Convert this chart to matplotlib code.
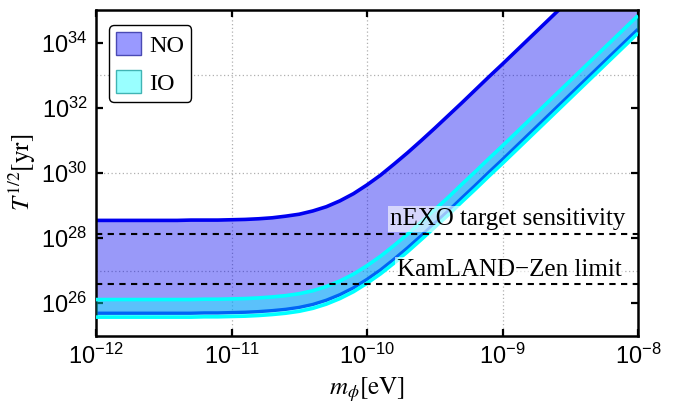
import numpy as np
import matplotlib
matplotlib.use("Agg")
import matplotlib.pyplot as plt
from matplotlib.patches import Patch
from matplotlib.ticker import FixedLocator, FuncFormatter, NullLocator

plt.rcParams['font.family'] = ['Liberation Sans', 'DejaVu Sans']
plt.rcParams['mathtext.fontset'] = 'stix'

# log10 of m_phi [eV]
log_m = [-12.0, -11.9, -11.8, -11.7, -11.6, -11.5, -11.4, -11.3, -11.2, -11.1,
         -11.0, -10.9, -10.8, -10.7, -10.6, -10.5, -10.4, -10.3, -10.2, -10.1,
         -10.0, -9.9, -9.8, -9.7, -9.6, -9.5, -9.4, -9.3, -9.2, -9.1,
         -9.0, -8.9, -8.8, -8.7, -8.6, -8.5, -8.4, -8.3, -8.2, -8.1, -8.0]

# log10 of T^{1/2} [yr]
no_upper = [28.54, 28.54, 28.54, 28.54, 28.54, 28.54, 28.54, 28.55, 28.55, 28.55,
            28.56, 28.57, 28.59, 28.62, 28.67, 28.73, 28.83, 28.96, 29.14, 29.36,
            29.63, 29.93, 30.27, 30.62, 30.99, 31.37, 31.76, 32.15, 32.55, 32.95,
            33.34, 33.74, 34.14, 34.54, 34.94, 35.34, 35.74, 36.14, 36.54, 36.94, 37.34]
no_lower = [25.69, 25.69, 25.69, 25.69, 25.69, 25.69, 25.69, 25.69, 25.70, 25.70,
            25.71, 25.72, 25.74, 25.77, 25.81, 25.87, 25.96, 26.09, 26.26, 26.47,
            26.73, 27.02, 27.35, 27.70, 28.07, 28.45, 28.83, 29.23, 29.62, 30.02,
            30.41, 30.81, 31.21, 31.61, 32.01, 32.41, 32.81, 33.21, 33.61, 34.01, 34.41]
io_upper = [26.11, 26.11, 26.11, 26.11, 26.11, 26.11, 26.11, 26.11, 26.12, 26.12,
            26.13, 26.14, 26.16, 26.19, 26.23, 26.29, 26.38, 26.51, 26.68, 26.89,
            27.15, 27.44, 27.77, 28.12, 28.49, 28.87, 29.25, 29.65, 30.04, 30.44,
            30.83, 31.23, 31.63, 32.03, 32.43, 32.83, 33.23, 33.63, 34.03, 34.43, 34.83]
io_lower = [25.57, 25.57, 25.57, 25.57, 25.57, 25.57, 25.57, 25.57, 25.58, 25.58,
            25.59, 25.60, 25.62, 25.65, 25.69, 25.75, 25.84, 25.97, 26.14, 26.35,
            26.61, 26.90, 27.23, 27.58, 27.95, 28.33, 28.71, 29.11, 29.50, 29.90,
            30.29, 30.69, 31.09, 31.49, 31.89, 32.29, 32.69, 33.09, 33.49, 33.89, 34.29]

nexo_target = 1.35e28
kamland_limit = 3.8e26

x_ticks = [1e-12, 1e-11, 1e-10, 1e-9, 1e-8]
y_ticks = [1e26, 1e28, 1e30, 1e32, 1e34]
grid_x = [1e-11, 1e-10, 1e-9]
grid_y = [1e27, 1e30, 1e33]

m = 10.0 ** np.array(log_m)
nu = 10.0 ** np.array(no_upper)
nl = 10.0 ** np.array(no_lower)
iu = 10.0 ** np.array(io_upper)
il = 10.0 ** np.array(io_lower)

fig = plt.figure(figsize=(6.73, 4.03), dpi=100)
ax = fig.add_axes([96/673, 1-335.7/403, (638-96)/673, (335.7-10)/403])
ax.set_xscale('log')
ax.set_yscale('log')
ax.set_xlim(1e-12, 1e-8)
ax.set_ylim(1e25, 1e35)

for gx in grid_x:
    ax.axvline(gx, color='#b0b0b0', lw=0.9, ls=(0, (1, 2)), zorder=0.5)
for gy in grid_y:
    ax.axhline(gy, color='#b0b0b0', lw=0.9, ls=(0, (1, 2)), zorder=0.5)

blue = '#0000f0'
cyan = '#00ffff'
ax.fill_between(m, nl, nu, color=blue, alpha=0.4, lw=0, zorder=1)
ax.plot(m, nu, color=blue, lw=2.6, zorder=2, solid_capstyle='butt')
ax.plot(m, nl, color=blue, lw=2.4, zorder=2, solid_capstyle='butt')
ax.fill_between(m, il, iu, color=cyan, alpha=0.4, lw=0, zorder=3)
ax.plot(m, iu, color=cyan, lw=2.6, zorder=4, solid_capstyle='butt')
ax.plot(m, il, color=cyan, lw=2.6, zorder=4, solid_capstyle='butt')

ax.axhline(nexo_target, color='black', lw=1.5, ls=(0, (3, 2.6)), zorder=5)
ax.axhline(kamland_limit, color='black', lw=1.5, ls=(0, (3, 2.6)), zorder=5)

box = dict(boxstyle='square,pad=0.08', fc='white', ec='none', alpha=0.6)
ax.text(0.976, 0.358, 'nEXO target sensitivity', transform=ax.transAxes,
        ha='right', va='center', fontsize=18, family=['Liberation Serif'],
        bbox=box, zorder=6)
ax.text(0.970, 0.202, 'KamLAND\u2212Zen limit', transform=ax.transAxes,
        ha='right', va='center', fontsize=18, family=['Liberation Serif'],
        bbox=box, zorder=6)

ax.xaxis.set_major_locator(FixedLocator(x_ticks))
ax.yaxis.set_major_locator(FixedLocator(y_ticks))
ax.xaxis.set_minor_locator(NullLocator())
ax.yaxis.set_minor_locator(NullLocator())
fmt = FuncFormatter(lambda v, p: r'$\mathregular{10^{%d}}$' % int(round(np.log10(v))))
ax.xaxis.set_major_formatter(fmt)
ax.yaxis.set_major_formatter(fmt)
ax.tick_params(which='major', direction='in', length=5, width=1.6,
               top=True, right=True, labelsize=17, pad=6)
for s in ax.spines.values():
    s.set_linewidth(1.8)

ax.set_xlabel(r'$m_{\phi}[\mathrm{eV}]$', fontsize=18, labelpad=4)
ax.set_ylabel(r'$T^{1/2}[\mathrm{yr}]$', fontsize=18, labelpad=2)

handles = [Patch(facecolor='#9999ff', edgecolor='#4a4ab4', lw=1.0, label='NO'),
           Patch(facecolor='#99ffff', edgecolor='#40b4b4', lw=1.0, label='IO')]
leg = ax.legend(handles=handles, loc='upper left', bbox_to_anchor=(0.024, 0.954),
                borderaxespad=0, prop={'family': 'Liberation Serif', 'size': 17.5},
                handlelength=1.0, handleheight=1.05, handletextpad=0.35,
                labelspacing=0.55, borderpad=0.3, fancybox=True, framealpha=1,
                edgecolor='black')
leg.get_frame().set_linewidth(1.0)
leg.set_zorder(10)

fig.savefig('out.png', dpi=100)
